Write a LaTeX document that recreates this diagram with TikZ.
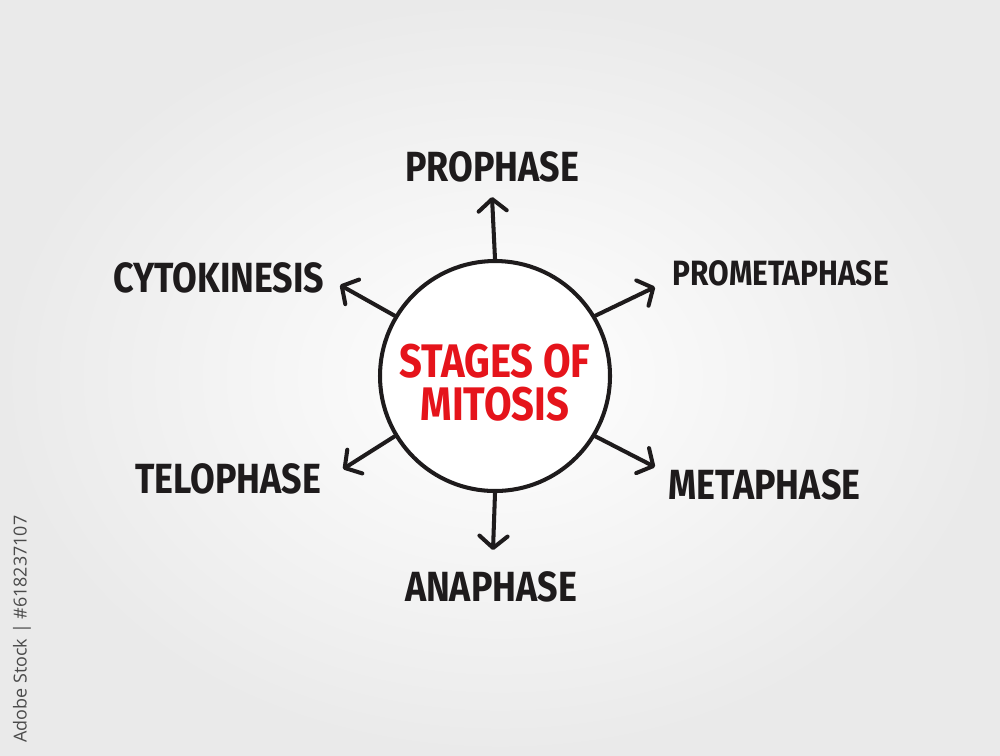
\documentclass[tikz,border=0pt]{standalone}
\usepackage{fontspec}
\usetikzlibrary{arrows.meta,positioning}
\newfontfamily\markerfont[FakeStretch=0.85]{Fira Sans}
\newfontfamily\wmfont{Open Sans}
\definecolor{inkBlack}{HTML}{1E1B1C}
\definecolor{inkRed}{HTML}{E5141B}
\definecolor{wmGray}{HTML}{4A4A4A}
\definecolor{bgGray}{HTML}{EAEAEA}

\begin{document}
\begin{tikzpicture}[
      lbl/.style={inner sep=0pt,text=inkBlack,font=\markerfont\bfseries\fontsize{12}{12}\selectfont},
      ray/.style={-{Straight Barb[length=3.4pt,width=8pt,round]},inkBlack,line width=1.15pt,line cap=round}]
    \useasboundingbox (0,0) rectangle (10,7.55);
    \shade[inner color=white,outer color=bgGray] (0,0) rectangle (10,7.55);

    \node[draw=inkBlack,line width=1.15pt,circle,minimum size=2.3cm,inner sep=0pt,fill=white]
          (hub) at (4.95,3.79) {};
    \node[align=center,inner sep=0pt,text=inkRed,
          font=\markerfont\bfseries\fontsize{13.4}{12.2}\selectfont]
          (ttl) at (4.95,3.72) {STAGES OF\\MITOSIS};

    % tips of the arrows
    \coordinate (tPro)  at (4.92,5.58);
    \coordinate (tProm) at (6.55,4.68);
    \coordinate (tMeta) at (6.55,2.88);
    \coordinate (tAna)  at (4.93,2.05);
    \coordinate (tTelo) at (3.43,2.86);
    \coordinate (tCyto) at (3.40,4.70);

    \node[lbl]        (pro)  at (4.92,5.88) {PROPHASE};
    \node[lbl,anchor=west,font=\markerfont\bfseries\fontsize{10}{10}\selectfont]
                      (prom) at (6.72,4.82) {PROMETAPHASE};
    \node[lbl,anchor=west] (meta) at (6.68,2.70) {METAPHASE};
    \node[lbl]        (ana)  at (4.91,1.68) {ANAPHASE};
    \node[lbl,anchor=east] (telo) at (3.22,2.76) {TELOPHASE};
    \node[lbl,anchor=east] (cyto) at (3.25,4.77) {CYTOKINESIS};

    \foreach \a/\t in {90/tPro,31/tProm,-31/tMeta,270/tAna,211/tTelo,149/tCyto}
      \draw[ray] (hub.\a) -- (\t);

    \node[rotate=90,text=wmGray,font=\wmfont\fontsize{5.1}{6}\selectfont,inner sep=0pt]
          (wm) at (0.22,1.26) {Adobe Stock | \#618237107};
\end{tikzpicture}
\end{document}
